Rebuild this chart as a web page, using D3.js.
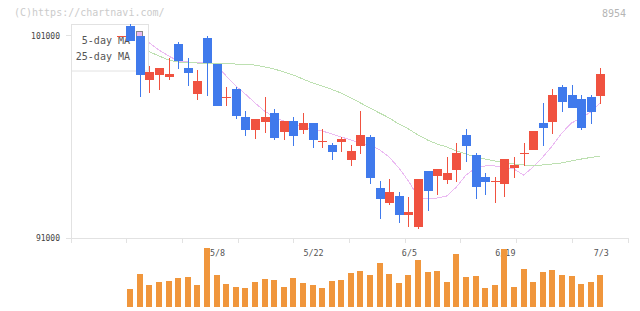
<!DOCTYPE html>
<html>
<head>
<meta charset="utf-8">
<script src="https://cdn.jsdelivr.net/npm/d3@7/dist/d3.min.js"></script>
<style>
	body { margin: 0; background: #fff; }
	svg text { font-family: "DejaVu Sans Mono", monospace; }
</style>
</head>
<body>
<svg id="chart"></svg>
<script>
// daily prices (first entry sits behind the legend, no volume)
var opens = [101000, 101480, 100990, 98810, 99060, 98980, 100590, 99420, 98140, 100890, 99600,
	97970, 98370, 96970, 96360, 96760, 97180, 96260, 96790, 96360, 96690,
	95790, 95610, 95770, 94880, 95570, 96000, 93480, 92760, 93090, 92170,
	91570, 94320, 94090, 93890, 94390, 96100, 95110, 94030, 93810, 93700,
	94490, 95200, 95370, 96690, 96760, 98470, 98070, 97880, 97970, 98040];
var highs = [101000, 101580, 100990, 99500, 99420, 99880, 100690, 99900, 99310, 101000, 99600,
	98470, 98480, 97300, 96890, 97970, 97380, 96790, 96990, 97180, 96690,
	96400, 95700, 96010, 95610, 97280, 96100, 93830, 93930, 93290, 93040,
	93930, 94320, 94420, 95010, 95700, 96400, 95210, 94220, 94030, 94910,
	95010, 95700, 96300, 97680, 98370, 98570, 98570, 98070, 98070, 99410];
var lows = [101000, 100750, 97960, 98160, 98320, 98810, 99360, 98530, 97830, 98020, 97550,
	97530, 96870, 96060, 95890, 96180, 95850, 95850, 95570, 96160, 95470,
	95470, 94880, 95270, 94580, 95180, 93700, 91970, 92660, 91770, 91570,
	91470, 92360, 93150, 93700, 93790, 94780, 92950, 93150, 92760, 93050,
	93990, 94580, 95370, 95570, 96160, 97250, 97450, 96360, 96660, 97640];
var closes = [101000, 100750, 99060, 99220, 99420, 99110, 99770, 99170, 98760, 99670, 97550,
	97970, 97050, 96360, 96890, 96990, 95950, 96790, 96060, 96690, 95870,
	95790, 95270, 95900, 95310, 96100, 93990, 92950, 93290, 92170, 92300,
	93930, 93350, 94420, 94220, 95210, 95570, 93550, 93790, 93810, 94910,
	94620, 95200, 96300, 96460, 98070, 97740, 97450, 96460, 97250, 99110];
var volumes = [null, 1770, 3270, 2170, 2470, 2570, 2870, 2970, 2170, 5900, 3170,
	2270, 1970, 1870, 2470, 2770, 2670, 1970, 2870, 2370, 2170,
	1870, 2570, 2670, 3370, 3570, 3170, 4370, 3270, 2370, 3170,
	4670, 3470, 3570, 2470, 5270, 2970, 3070, 1870, 2170, 5770,
	1970, 3770, 2470, 3470, 3670, 3170, 3070, 2270, 2470, 3170];
var ma5 = [null, null, 100940, 100640, 100290, 100000, 99750, 99700, 99680, 99700, 99550,
	99010, 98520, 98120, 97680, 97280, 96990, 96790, 96640, 96490, 96350,
	96300, 96150, 96000, 95850, 95700, 95610, 95360, 95010, 94470, 93830,
	93040, 92940, 92990, 93090, 93530, 94120, 94470, 94570, 94570, 94520,
	94420, 94120, 94520, 95010, 95560, 96200, 96690, 96940, 97230, 97680];
var ma25 = [null, null, 100390, 100200, 100000, 99800, 99700, 99680, 99650, 99650, 99650,
	99630, 99600, 99580, 99550, 99460, 99360, 99210, 99060, 98860, 98670,
	98520, 98350, 98170, 97930, 97680, 97430, 97180, 96940, 96640, 96400,
	96100, 95850, 95650, 95510, 95310, 95160, 95010, 94910, 94820, 94740,
	94670, 94620, 94590, 94620, 94670, 94720, 94820, 94910, 94990, 95060];

var dateLabels = ["5/8", "5/22", "6/5", "6/19", "7/3"];
var dateIndex = [10, 20, 30, 40, 50];
var priceTicks = [91000, 101000];
var legendNames = ["5-day MA", "25-day MA"];

var upColor = "#f05240";
var downColor = "#407aec";
var volColor = "#f0963c";
var maColors = ["#ebbaf2", "#bde0b1"];

function drawChart(width, height) {
	var svg = d3.select("#chart")
		.attr("width", width)
		.attr("height", height);

	var left = 71, right = 628, top = 24, bottom = 238.3;

	var x = d3.scaleLinear()
		.domain([-5.18, 52.89])
		.range([left, right]);
	var y = d3.scaleLinear()
		.domain([91000, 101000])
		.range([bottom, 35.7]);
	var yVol = d3.scaleLinear()
		.domain([0, d3.max(volumes)])
		.range([306.7, 247.7]);

	var days = d3.range(opens.length);

	// header texts
	svg.append("text")
		.attr("x", 14)
		.attr("y", 16)
		.attr("font-size", "10px")
		.attr("fill", "#cbcbcb")
		.text("(C)https://chartnavi.com/");
	svg.append("text")
		.attr("x", 626)
		.attr("y", 16.5)
		.attr("font-size", "10px")
		.attr("fill", "#b5b5b5")
		.style("text-anchor", "end")
		.text("8954");

	// frame: left line, bottom line, ticks
	var grid = svg.append("g")
		.attr("stroke", "#e2e2e2")
		.attr("shape-rendering", "crispEdges");
	grid.append("line")
		.attr("x1", left).attr("x2", left)
		.attr("y1", top).attr("y2", bottom + 5);
	grid.append("line")
		.attr("x1", left - 5).attr("x2", right)
		.attr("y1", bottom).attr("y2", bottom);
	grid.selectAll(".xtick")
		.data(d3.range(11))
		.enter()
		.append("line")
		.attr("x1", k => left + (right - left) * k / 10)
		.attr("x2", k => left + (right - left) * k / 10)
		.attr("y1", bottom)
		.attr("y2", bottom + 5);
	grid.selectAll(".ytick")
		.data(priceTicks)
		.enter()
		.append("line")
		.attr("x1", left - 5).attr("x2", left)
		.attr("y1", d => y(d)).attr("y2", d => y(d));

	svg.selectAll(".ylabel")
		.data(priceTicks)
		.enter()
		.append("text")
		.attr("x", 60)
		.attr("y", d => y(d) + 3)
		.attr("font-size", "8px")
		.attr("fill", "#444")
		.style("text-anchor", "end")
		.text(d => d);

	// date labels (sit under the volume bars)
	svg.selectAll(".xlabel")
		.data(dateLabels)
		.enter()
		.append("text")
		.attr("x", (d, i) => x(dateIndex[i]) + 1)
		.attr("y", 255.5)
		.attr("font-size", "8.4px")
		.attr("fill", "#555")
		.style("text-anchor", "middle")
		.text(d => d);

	// volume
	svg.selectAll(".vol")
		.data(days.filter(i => volumes[i] != null))
		.enter()
		.append("rect")
		.attr("x", i => x(i) - 3)
		.attr("width", 6)
		.attr("y", i => yVol(volumes[i]))
		.attr("height", i => yVol(0) - yVol(volumes[i]))
		.attr("fill", volColor)
		.attr("shape-rendering", "crispEdges");

	// moving averages
	[ma5, ma25].forEach((ma, n) => {
		var line = d3.line()
			.defined(i => ma[i] != null)
			.x(i => x(i))
			.y(i => y(ma[i]));
		svg.append("path")
			.attr("d", line(days))
			.attr("fill", "none")
			.attr("stroke", maColors[n])
			.attr("stroke-width", 1)
			.attr("shape-rendering", "crispEdges");
	});

	// legend box
	var legend = svg.append("g");
	legend.append("rect")
		.attr("x", left + 0.5)
		.attr("y", top + 0.5)
		.attr("width", 77)
		.attr("height", 46.5)
		.attr("fill", "#fff")
		.attr("stroke", "#e2e2e2");
	legendNames.forEach((name, n) => {
		legend.append("text")
			.attr("x", 130)
			.attr("y", 44 + n * 16)
			.attr("font-size", "10px")
			.attr("fill", "#555")
			.style("text-anchor", "end")
			.text(name);
		legend.append("rect")
			.attr("x", 136.5)
			.attr("y", 31.5 + n * 16)
			.attr("width", 6)
			.attr("height", 6)
			.attr("fill", maColors[n])
			.attr("stroke", "#888");
	});

	// candles
	var candle = svg.selectAll(".candle")
		.data(days)
		.enter()
		.append("g")
		.classed("candle", true)
		.attr("shape-rendering", "crispEdges");

	var colorOf = i => closes[i] >= opens[i] ? upColor : downColor;

	candle.append("line")
		.attr("x1", i => Math.round(x(i)) + 0.5)
		.attr("x2", i => Math.round(x(i)) + 0.5)
		.attr("y1", i => y(highs[i]))
		.attr("y2", i => y(lows[i]))
		.attr("stroke", colorOf);

	candle.append("rect")
		.attr("x", i => Math.round(x(i)) - 4)
		.attr("width", 9)
		.attr("y", i => y(Math.max(opens[i], closes[i])))
		.attr("height", i => Math.max(1, Math.abs(y(opens[i]) - y(closes[i]))))
		.attr("fill", colorOf);
}

drawChart(640, 311);
</script>
</body>
</html>
